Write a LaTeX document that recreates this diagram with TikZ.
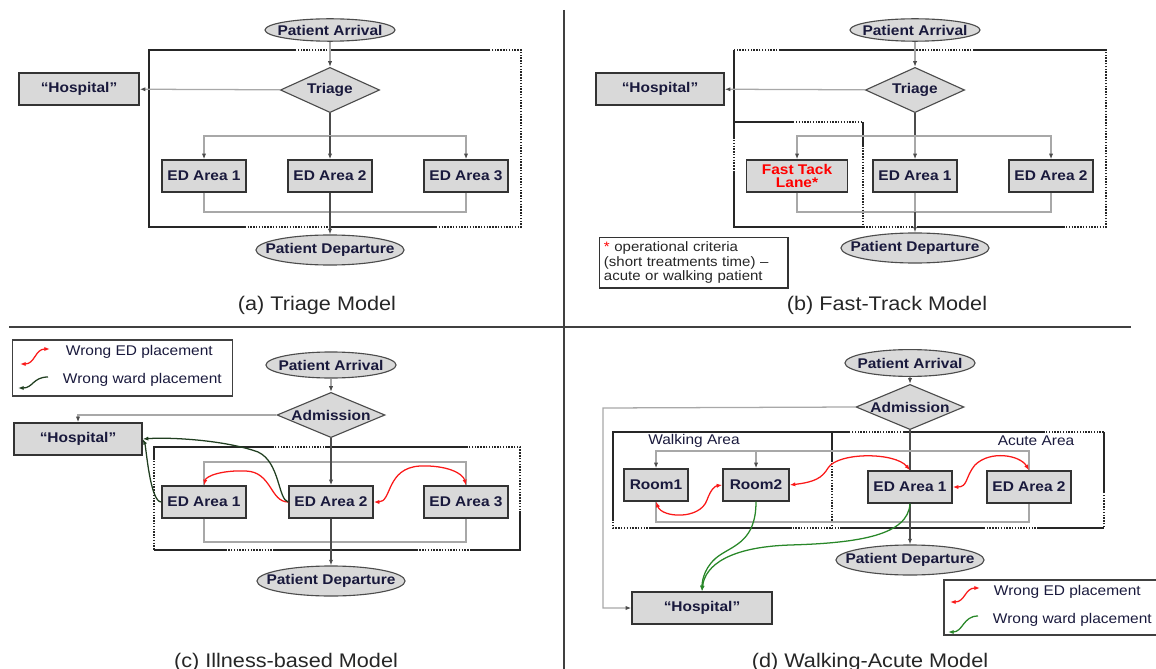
\documentclass[tikz,border=0pt]{standalone}
\usepackage{fontspec}
\setmainfont{Liberation Sans}[FakeStretch=1.1]
\usepackage{xcolor}
\usetikzlibrary{arrows.meta,positioning,calc,shapes.geometric}

\definecolor{boxfill}{RGB}{217,217,217}
\definecolor{navytext}{RGB}{25,25,60}
\definecolor{linegray}{RGB}{168,168,168}
\definecolor{edred}{RGB}{250,25,25}
\definecolor{wardgreen}{RGB}{32,62,32}
\definecolor{wardgreenD}{RGB}{40,135,40}

\begin{document}
\begin{tikzpicture}[
        x=0.025cm, y=-0.025cm,
        >={Latex[length=4pt,width=3pt]},
        every node/.style={font=\fontsize{10}{12}\selectfont\bfseries, text=navytext},
        area/.style={
            draw=black!80,
            line width=1pt,
            fill=boxfill,
            align=center,
            minimum width=2.1cm,
            minimum height=0.8cm,
            inner sep=1pt
        },
        hospital/.style={area, minimum width=3cm},
        terminal/.style={
            ellipse,
            draw=black!70,
            line width=0.8pt,
            fill=boxfill,
            minimum width=3.25cm,
            minimum height=0.56cm,
            inner xsep=-10pt,
            inner ysep=0pt
        },
        departure/.style={terminal, minimum width=3.7cm, minimum height=0.75cm},
        decision/.style={
            diamond,
            aspect=2.4,
            draw=black!70,
            line width=0.8pt,
            fill=boxfill,
            minimum width=2.5cm,
            minimum height=1.13cm,
            inner sep=0pt
        },
        notebox/.style={
            draw=black!80,
            line width=1pt,
            align=left,
            text width=4.5cm,
            inner xsep=3pt,
            inner ysep=3pt,
            font=\fontsize{9.7}{10.3}\selectfont,
            text=black!85
        },
        legendbox/.style={draw=black!75, line width=1pt, minimum width=5.5cm, minimum height=1.4cm},
        legendtext/.style={anchor=west, font=\fontsize{10}{12}\selectfont},
        zonetext/.style={font=\fontsize{10}{12}\selectfont},
        caption/.style={font=\fontsize{14}{16}\selectfont, text=black!85},
        flow/.style={draw=black!70, line width=0.9pt},
        gline/.style={draw=linegray, line width=0.9pt},
        garrow/.style={gline, -{Latex[length=4pt,width=3pt,color=black!70]}},
        frame/.style={draw=black!85, line width=1pt},
        framedot/.style={draw=black!85, line width=1pt, dash pattern=on 1pt off 1pt},
        edline/.style={draw=edred, line width=0.9pt},
        wardline/.style={draw=wardgreen, line width=0.9pt},
        wardlineD/.style={draw=wardgreenD, line width=0.9pt},
        sepline/.style={draw=black!75, line width=1.2pt}
    ]

    \useasboundingbox (0,0) rectangle (1156,669);

    \draw[sepline] (564,10) -- (564,669);
    \draw[sepline] (9,327) -- (1131,327);

    % (a) triage
    \draw[framedot] (149,50) rectangle (521,227);
    \draw[frame] (295,50) -| (149,227) -- (245,227);
    \draw[frame] (330,50) -- (489,50);
    \draw[frame] (330,227) -- (436,227);

    \node[terminal] (arrA) at (330,30) {Patient Arrival};
    \node[decision, minimum width=2.48cm] (triA) at (330,90) {Triage};
    \node[hospital] (hospA) at (79,89) {“Hospital”};
    \node[area] (ed1A) at (204,176) {ED Area 1};
    \node[area] (ed2A) at (330,176) {ED Area 2};
    \node[area] (ed3A) at (466,176) {ED Area 3};
    \node[departure] (depA) at (330,250) {Patient Departure};
    \node[caption] (capA) at (317,305) {(a) Triage Model};

    \coordinate (splitA) at (330,136);
    \coordinate (joinA) at (330,212);
    \draw[garrow] (arrA) -- (triA);
    \draw[garrow] (triA) -- (hospA);
    \draw[flow] (triA) -- (splitA);
    \draw[garrow] (splitA) -| (ed1A.north);
    \draw[garrow] (splitA) -| (ed3A.north);
    \draw[flow,->] (splitA) -- (ed2A);
    \draw[gline] (ed1A.south) |- (joinA) -| (ed3A.south);
    \draw[flow,->] (ed2A) -- (depA);

    % (b) fast-track
    \draw[framedot] (734,50) rectangle (1106,227);
    \draw[framedot] (734,122) -| (863,227);
    \draw[frame] (779,50) -- (917,50);
    \draw[frame] (974,50) -- (1106,50);
    \draw[frame] (734,50) -- (734,137);
    \draw[frame] (734,172) -- (734,227) -- (864,227);
    \draw[frame] (917,227) -- (1064,227);
    \draw[frame] (734,122) -- (793,122);
    \draw[frame] (863,122) -- (863,147);

    \node[terminal] (arrB) at (915,30) {Patient Arrival};
    \node[decision, minimum width=2.48cm] (triB) at (915,90) {Triage};
    \node[hospital, minimum width=3.2cm] (hospB) at (660,89) {“Hospital”};
    \node[area, minimum width=2.53cm, text=red, font=\fontsize{10}{9.5}\selectfont\bfseries] (ftl) at (797,176) {Fast Tack\\Lane*};
    \node[area] (ed1B) at (915,176) {ED Area 1};
    \node[area] (ed2B) at (1051,176) {ED Area 2};
    \node[departure] (depB) at (915,248) {Patient Departure};
    \node[notebox, anchor=north west] (note) at (599,237) {\textcolor{red}{*} operational criteria\\(short treatments time) –\\acute or walking patient};
    \node[caption] (capB) at (887,305) {(b) Fast-Track Model};

    \coordinate (splitB) at (915,136);
    \coordinate (joinB) at (915,212);
    \draw[garrow] (arrB) -- (triB);
    \draw[garrow] (triB) -- (hospB);
    \draw[flow] (triB) -- (splitB);
    \draw[garrow] (splitB) -| (ftl.north);
    \draw[garrow] (splitB) -| (ed2B.north);
    \draw[garrow] (splitB) -- (ed1B);
    \draw[gline] (ftl.south) |- (joinB) -| (ed2B.south);
    \draw[gline] (ed1B) -- (joinB);
    \draw[flow,->] (joinB) -- (depB);

    % (c) illness-based
    \draw[framedot] (154,447) rectangle (520,550);
    \draw[frame] (273,447) -| (154,460);
    \draw[frame] (325,447) -- (468,447);
    \draw[frame] (520,513) -- (520,550) -- (470,550);
    \draw[frame] (418,550) -- (275,550);
    \draw[frame] (225,550) -- (154,550);

    \node[legendbox] (legC) at (122.5,368) {};
    \node[legendtext] (lgEdC) at (61,352) {Wrong ED placement};
    \node[legendtext] (lgWardC) at (58,380) {Wrong ward placement};
    \node[terminal, minimum height=0.65cm] (arrC) at (331,365) {Patient Arrival};
    \node[decision, minimum width=2.7cm] (admC) at (331,415) {Admission};
    \node[hospital, minimum width=3.2cm] (hospC) at (78,439) {“Hospital”};
    \node[area] (ed1C) at (204,502) {ED Area 1};
    \node[area] (ed2C) at (331,502) {ED Area 2};
    \node[area] (ed3C) at (466,502) {ED Area 3};
    \node[departure] (depC) at (331,581) {Patient Departure};
    \node[caption] (capC) at (286,662) {(c) Illness-based Model};

    \coordinate (splitC) at (331,462);
    \coordinate (joinC) at (331,542);
    \draw[edline,<->] ($(lgEdC.west)+(-41,12)$) .. controls +(15,0) and +(-15,0) .. ($(lgEdC.west)+(-11,-3)$);
    \draw[wardline,->] ($(lgWardC.west)+(-10,-3)$) .. controls +(-15,0) and +(15,0) .. ($(lgWardC.west)+(-40,8)$);
    \draw[garrow] (arrC) -- (admC);
    \draw[garrow] (admC.west) -| (hospC.north);
    \draw[gline] (ed1C.north) |- (splitC) -| (ed3C.north);
    \draw[gline] (ed1C.south) |- (joinC) -| (ed3C.south);
    \draw[flow,->] (admC) -- (ed2C);
    \draw[flow,->] (ed2C) -- (depC);
    \draw[edline,->] (ed2C.west) .. controls (270,502) and (272,472) .. (246,471) .. controls (222,470) and (206,476) .. (ed1C.north);
    \draw[edline,<->] (ed2C.east) .. controls (392,502) and (386,468) .. (420,466) .. controls (446,465) and (463,473) .. (ed3C.north);
    \draw[wardline,->] (ed1C.west) .. controls (150,502) and (146,446) .. (hospC.east);
    \draw[wardline,->] (ed2C.west) .. controls (278,500) and (280,462) .. (258,452) .. controls (225,440) and (170,437) .. (hospC.east);

    % (d) walking-acute
    \draw[framedot] (613,432) rectangle (1104,528);
    \draw[framedot] (832,432) -- (832,528);
    \draw[frame] (849,432) -| (613,520);
    \draw[frame] (832,432) -- (832,460);
    \draw[frame] (904,432) -- (1045,432);
    \draw[frame] (1104,432) -- (1104,493);
    \draw[frame] (651,528) -- (792,528);
    \draw[frame] (841,528) -- (984,528);
    \draw[frame] (1037,528) -- (1104,528);

    \node[terminal, minimum height=0.67cm] (arrD) at (910,363) {Patient Arrival};
    \node[decision, minimum width=2.7cm] (admD) at (910,407) {Admission};
    \node[hospital, minimum width=3.5cm] (hospD) at (702,608) {“Hospital”};
    \node[zonetext] (walk) at (694,441) {Walking Area};
    \node[zonetext] (acute) at (1036,441) {Acute Area};
    \node[area, minimum width=1.6cm] (rm1) at (656,485) {Room1};
    \node[area, minimum width=1.65cm] (rm2) at (756,485) {Room2};
    \node[area] (ed1D) at (910,487) {ED Area 1};
    \node[area] (ed2D) at (1029,487) {ED Area 2};
    \node[departure] (depD) at (910,560) {Patient Departure};
    \node[legendbox, minimum width=5.45cm, minimum height=1.38cm] (legD) at (1053,607.5) {};
    \node[legendtext] (lgEdD) at (989,592) {Wrong ED placement};
    \node[legendtext] (lgWardD) at (988,620) {Wrong ward placement};
    \node[caption] (capD) at (870,662) {(d) Walking-Acute Model};

    \coordinate (splitD) at (910,451);
    \coordinate (joinD) at (910,522);
    \coordinate (bendD) at (603,408);
    \draw[garrow] (arrD) -- (admD);
    \draw[garrow] (admD.west) -- (bendD) |- (hospD.west);
    \draw[flow] (admD) -- (ed1D);
    \draw[garrow] (splitD) -| (rm1.north);
    \draw[garrow] (splitD) -| (rm2.north);
    \draw[gline] (splitD) -| (ed2D.north);
    \draw[gline] (rm1.south) |- (joinD) -| (ed2D.south);
    \draw[flow,->] (ed1D) -- (depD);
    \draw[edline,<->] (rm1.south) .. controls (662,518) and (700,520) .. (707,500) .. controls (711,489) and (715,486) .. (rm2.west);
    \draw[edline,<->] (rm2.east) .. controls (815,482) and (822,478) .. (828,468) .. controls (838,452) and (895,452) .. (ed1D.north);
    \draw[edline,<->] (ed1D.east) .. controls (968,487) and (965,477) .. (975,465) .. controls (990,450) and (1020,455) .. (ed2D.north);
    \draw[wardlineD,->] (rm2.south) .. controls (756,540) and (735,545) .. (720,555) .. controls (705,565) and (702,580) .. (hospD.north);
    \draw[wardlineD,->] (ed1D.south) .. controls (908,535) and (860,543) .. (790,545) .. controls (730,547) and (705,565) .. (hospD.north);
    \draw[edline,<->] ($(lgEdD.west)+(-39,10)$) .. controls +(15,0) and +(-15,0) .. ($(lgEdD.west)+(-9,-4)$);
    \draw[wardlineD,->] ($(lgWardD.west)+(-10,-4)$) .. controls +(-15,0) and +(15,0) .. ($(lgWardD.west)+(-40,12)$);

    \end{tikzpicture}
\end{document}
